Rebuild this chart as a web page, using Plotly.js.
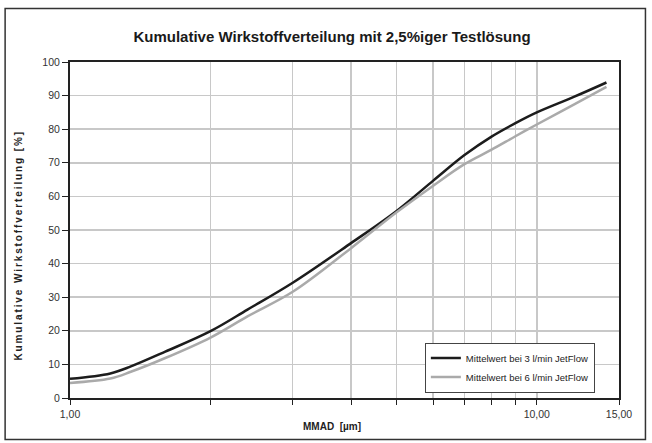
<!DOCTYPE html>
<html>
<head>
<meta charset="utf-8">
<script src="https://cdn.plot.ly/plotly-3.0.1.min.js"></script>
<style>html,body{margin:0;padding:0;background:#fff;}#chart{width:652px;height:443px;}
.annotation[data-index="1"] text{letter-spacing:1.9px;}</style>
</head>
<body>
<div id="chart"></div>
<script>
const mmad = [1, 1.22, 1.35, 1.6, 2, 2.4, 3, 4, 5, 6, 7, 8, 9, 10, 12, 14.1];
const flow3 = [5.7, 7.3, 9.4, 13.8, 19.9, 26.3, 34.3, 46.1, 55.6, 64.7, 72.3, 77.8, 81.8, 85.0, 89.6, 93.9];
const flow6 = [4.5, 5.8, 7.8, 11.9, 18.0, 24.3, 31.6, 44.6, 55.2, 63.2, 69.6, 73.9, 77.9, 81.4, 87.3, 92.6];
const seriesNames = ["Mittelwert bei 3 l/min JetFlow", "Mittelwert bei 6 l/min JetFlow"];
const xTickVals = [1, 2, 3, 4, 5, 6, 7, 8, 9, 10, 15];
const xTickText = ["1,00", "", "", "", "", "", "", "", "", "10,00", "15,00"];
const yTickVals = [0, 10, 20, 30, 40, 50, 60, 70, 80, 90, 100];

const W = 652, H = 443;
const L = 69.5, R = 32.5, T = 62, B = 44.5;
const pw = W - L - R, ph = H - T - B;
const px = v => (v - L) / pw;
const py = v => (H - B - v) / ph;

const font = "Liberation Sans, Arial, sans-serif";
const data = [
  {x: mmad, y: flow3, name: seriesNames[0], type: "scatter", mode: "lines",
   line: {color: "#1c1c1c", width: 2.5, shape: "spline", smoothing: 1}},
  {x: mmad, y: flow6, name: seriesNames[1], type: "scatter", mode: "lines",
   line: {color: "#aaaaaa", width: 2.5, shape: "spline", smoothing: 1}}
];
const layout = {
  width: W, height: H,
  margin: {l: L, r: R, t: T, b: B, pad: 0},
  paper_bgcolor: "#fff", plot_bgcolor: "#fff",
  font: {family: font, color: "#333", size: 10.5},
  title: {text: "<b>Kumulative Wirkstoffverteilung mit 2,5%iger Testlösung</b>",
    font: {family: font, size: 15, color: "#1a1a1a"},
    x: 332 / W, xref: "container", y: 1 - 37 / H, yref: "container", xanchor: "center", yanchor: "middle"},
  showlegend: true,
  legend: {x: px(425), y: py(343), xanchor: "left", yanchor: "top",
    bgcolor: "#fff", bordercolor: "#444", borderwidth: 1,
    font: {family: font, size: 9.5, color: "#222"},
    tracegroupgap: 0, itemwidth: 30},
  xaxis: {type: "log", range: [0, Math.log10(15)],
    tickmode: "array", tickvals: xTickVals, ticktext: xTickText,
    showgrid: true, gridcolor: "#c8c8c8", gridwidth: 1.5,
    showline: true, linecolor: "#222", linewidth: 2, mirror: true,
    ticks: "outside", ticklen: 5, tickcolor: "#222", tickwidth: 1,
    zeroline: false, tickfont: {size: 10.5, color: "#333"}},
  yaxis: {range: [0, 100], tickmode: "array", tickvals: yTickVals,
    showgrid: true, gridcolor: "#c8c8c8", gridwidth: 1.5,
    showline: true, linecolor: "#222", linewidth: 2, mirror: true,
    ticks: "outside", ticklen: 6, tickcolor: "#222", tickwidth: 1,
    zeroline: false, tickfont: {size: 10.5, color: "#333"}},
  annotations: [
    {text: "<b>MMAD  [µm]</b>", xref: "paper", yref: "paper", x: px(332), y: py(427),
     xanchor: "center", yanchor: "middle", showarrow: false, font: {size: 10, color: "#222"}},
    {text: "<b>Kumulative Wirkstoffverteilung [%]</b>", xref: "paper", yref: "paper", x: px(18), y: py(246),
     xanchor: "center", yanchor: "middle", showarrow: false, textangle: -90, font: {size: 10, color: "#222"}}
  ],
  shapes: [
    {type: "rect", xref: "paper", yref: "paper",
     x0: px(4.5), x1: px(646), y0: py(440), y1: py(8.5),
     line: {color: "#333", width: 1.5}, fillcolor: "rgba(0,0,0,0)", layer: "below"}
  ]
};
Plotly.newPlot("chart", data, layout, {displayModeBar: false, staticPlot: true});
</script>
</body>
</html>
